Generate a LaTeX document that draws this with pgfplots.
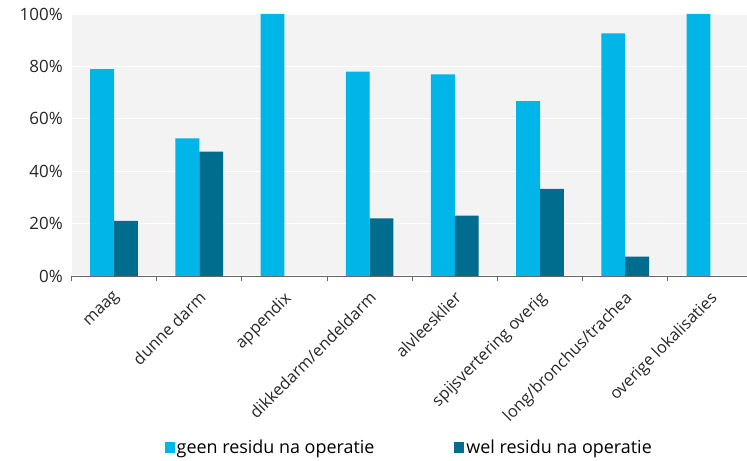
\documentclass[border=0pt]{standalone}
\usepackage{fontspec}
\setmainfont{Open Sans}
\usepackage{pgfplots}
\pgfplotsset{compat=1.18}
\definecolor{lb}{HTML}{00B5E8}
\definecolor{db}{HTML}{006C8E}
\definecolor{bg}{HTML}{F3F3F3}
\begin{document}
\begin{tikzpicture}
\path[use as bounding box] (0,0) rectangle (747bp,461bp);
\begin{axis}[
  at={(71.5bp,185bp)}, anchor=south west,
  scale only axis, width=675.5bp, height=262bp,
  ybar=0pt, bar width=0.28,
  xmin=-0.5, xmax=7.43, ymin=0, ymax=100,
  axis background/.style={fill=bg},
  axis x line*=bottom, axis y line*=left,
  x axis line style={draw=gray!80!black, line width=0.8pt, -},
  y axis line style={draw=none},
  ytick={0,20,...,100},
  ymajorgrids, grid style={white, line width=1.2pt},
  ytick style={draw=none},
  yticklabel={\pgfmathprintnumber{\tick}\%},
  yticklabel style={xshift=-1bp, font=\fontsize{17}{20}\selectfont},
  /pgf/number format/assume math mode=true,
  xtick={0,...,7},
  major x tick style={draw=none},
  minor xtick={-0.5,0.5,...,6.5},
  minor x tick style={draw=gray!80!black, line width=0.8pt},
  minor tick length=5bp,
  tick align=outside,
  xticklabels={maag,dunne darm,appendix,dikkedarm/endeldarm,alvleesklier,spijsvertering overig,long/bronchus/trachea,overige lokalisaties},
  xticklabel style={rotate=45, anchor=north east, xshift=-4.6bp, yshift=-2.8bp, font=\fontsize{16.4}{19}\selectfont},
  tick label style={text=black!85},
  legend style={at={(0.5,-0.653)}, anchor=center, draw=none, fill=none,
    font=\fontsize{18}{20}\selectfont, legend columns=2,
    /tikz/every even column/.append style={column sep=78bp}},
  legend image code/.code={\fill[#1] (0bp,-6bp) rectangle (10bp,5bp);},
]
\addplot[fill=lb, draw=none] coordinates {(0,79) (1,52.5) (2,100) (3,78) (4,77) (5,66.7) (6,92.6) (7,100)};
\addplot[fill=db, draw=none] coordinates {(0,21) (1,47.5) (2,0) (3,22) (4,23) (5,33.3) (6,7.4) (7,0)};
\legend{geen residu na operatie, wel residu na operatie}
\end{axis}
\end{tikzpicture}
\end{document}
